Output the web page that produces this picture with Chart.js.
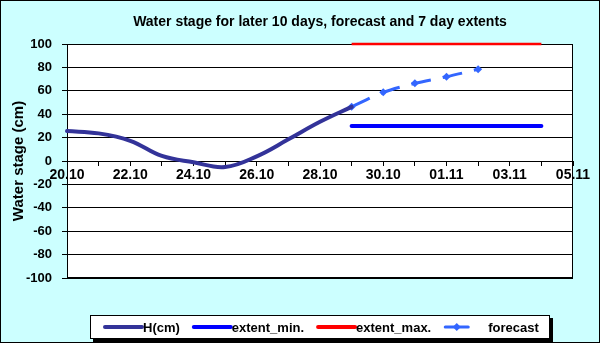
<!DOCTYPE html>
<html>
<head>
<meta charset="utf-8">
<script src="https://cdn.jsdelivr.net/npm/chart.js@4"></script>
<style>
  body { margin: 0; }
  #wrap { width: 600px; height: 343px; position: relative; }
</style>
</head>
<body>
<div id="wrap"><canvas id="stageChart"></canvas></div>
<script>
// * data
const days = ["20.10", "21.10", "22.10", "23.10", "24.10", "25.10", "26.10", "27.10", "28.10",
  "29.10", "30.10", "31.10", "01.11", "02.11", "03.11", "04.11", "05.11"];
const hCm = [25.6, 23.6, 17.3, 4.3, -1.1, -5.1, 4, 18.5, 33.5, 46.3,
  null, null, null, null, null, null, null];
const forecast = [null, null, null, null, null, null, null, null, null,
  46.3, 58.7, 66.4, 72, 78.4, null, null, null];
const extentMin = [null, null, null, null, null, null, null, null, null,
  30, 30, 30, 30, 30, 30, 30, null];
const extentMax = [null, null, null, null, null, null, null, null, null,
  100, 100, 100, 100, 100, 100, 100, null];
const yTicks = { min: -100, max: 100, step: 20 };

const FONT = "'Liberation Sans', Arial, sans-serif";
const chartTitle = "Water stage for later 10 days, forecast and 7 day extents";

// * background, plot frame, title and legend
const decor = {
  id: "decor",
  beforeDraw(chart) {
    const { ctx, chartArea: a, width, height } = chart;
    ctx.save();
    ctx.fillStyle = "#ccffff";
    ctx.fillRect(0, 0, width, height);
    ctx.strokeStyle = "#000";
    ctx.lineWidth = 1;
    ctx.strokeRect(0.5, 0.5, width - 1, height - 1);
    ctx.fillStyle = "#fff";
    ctx.fillRect(a.left, a.top, a.width, a.height);
    ctx.restore();
  },
  beforeDatasetsDraw(chart) {
    const { ctx, chartArea: a } = chart;
    ctx.save();
    ctx.strokeStyle = "#000";
    ctx.lineWidth = 1;
    ctx.strokeRect(Math.round(a.left) + 0.5, Math.round(a.top) + 0.5,
      Math.round(a.width) - 1, Math.round(a.height) - 1);
    ctx.restore();
  },
  afterDraw(chart) {
    const { ctx, chartArea: a } = chart;
    ctx.save();
    // title
    ctx.fillStyle = "#000";
    ctx.font = "bold 14px " + FONT;
    ctx.textAlign = "center";
    ctx.textBaseline = "middle";
    ctx.fillText(chartTitle, (a.left + a.right) / 2, 22);

    // legend box with shadow
    const bx = 90, by = 315, bw = 460, bh = 24;
    ctx.fillStyle = "#000";
    ctx.fillRect(bx + 3, by + 3, bw, bh);
    ctx.fillStyle = "#fff";
    ctx.fillRect(bx, by, bw, bh);
    ctx.strokeStyle = "#000";
    ctx.lineWidth = 1;
    ctx.strokeRect(bx + 0.5, by + 0.5, bw - 1, bh - 1);

    ctx.font = "bold 13px " + FONT;
    ctx.textAlign = "left";
    let x = 105;
    const cy = by + bh / 2;
    chart.data.datasets.forEach((ds) => {
      ctx.strokeStyle = ds.borderColor;
      ctx.lineWidth = 4;
      ctx.lineCap = "round";
      ctx.beginPath();
      if (ds.pointRadius) {
        ctx.lineWidth = 3;
        ctx.moveTo(x, cy);
        ctx.lineTo(x + 23, cy);
        ctx.stroke();
        ctx.fillStyle = ds.borderColor;
        ctx.beginPath();
        ctx.moveTo(x + 11.5, cy - 4);
        ctx.lineTo(x + 15.5, cy);
        ctx.lineTo(x + 11.5, cy + 4);
        ctx.lineTo(x + 7.5, cy);
        ctx.closePath();
        ctx.fill();
      } else {
        ctx.moveTo(x, cy);
        ctx.lineTo(x + 37, cy);
        ctx.stroke();
      }
      ctx.fillStyle = "#000";
      const tx = ds.pointRadius ? x + 43 : x + 38;
      ctx.fillText(ds.label, tx, cy + 1);
      x = tx + ctx.measureText(ds.label).width + 14;
    });
    ctx.restore();
  },
};

const config = {
  type: "line",
  data: {
    labels: days,
    datasets: [
      {
        label: "H(cm)",
        data: hCm,
        borderColor: "#333399",
        borderWidth: 4,
        tension: 0.4,
        pointRadius: 0,
        borderCapStyle: "round",
      },
      {
        label: "extent_min.",
        data: extentMin,
        borderColor: "#0000ff",
        borderWidth: 4,
        pointRadius: 0,
        borderCapStyle: "round",
      },
      {
        label: "extent_max.",
        data: extentMax,
        borderColor: "#ff0000",
        borderWidth: 2.5,
        pointRadius: 0,
        clip: false,
      },
      {
        label: "forecast",
        data: forecast,
        borderColor: "#3366ff",
        backgroundColor: "#3366ff",
        borderWidth: 3,
        borderDash: [20, 12],
        tension: 0.3,
        pointStyle: "rectRot",
        pointRadius: 4,
        pointBorderWidth: 0,
        pointBackgroundColor: "#3366ff",
      },
    ],
  },
  options: {
    responsive: true,
    maintainAspectRatio: false,
    animation: false,
    layout: { padding: { top: 44, right: 27, bottom: 65, left: 6 } },
    plugins: {
      legend: { display: false },
      title: { display: false },
      tooltip: { enabled: false },
    },
    scales: {
      x: {
        position: { y: 0 },
        offset: false,
        grid: { drawOnChartArea: false, color: "#000", tickLength: 4 },
        border: { color: "#000", width: 1 },
        ticks: {
          autoSkip: false,
          maxRotation: 0,
          padding: 2,
          color: "#000",
          font: { family: FONT, size: 14, weight: "bold" },
          callback: function (value, index) {
            return index % 2 === 0 ? this.getLabelForValue(value) : "";
          },
        },
      },
      y: {
        min: yTicks.min,
        max: yTicks.max,
        afterFit: (s) => { s.width = 61; },
        grid: { color: "#000", lineWidth: 1, tickLength: 5 },
        border: { color: "#000", width: 1 },
        ticks: {
          stepSize: yTicks.step,
          padding: 10,
          color: "#000",
          font: { family: FONT, size: 13, weight: "bold" },
        },
        title: {
          display: true,
          text: "Water stage (cm)",
          color: "#000",
          font: { family: FONT, size: 15, weight: "bold" },
        },
      },
    },
  },
  plugins: [decor],
};

new Chart(document.getElementById("stageChart").getContext("2d"), config);
</script>
</body>
</html>
